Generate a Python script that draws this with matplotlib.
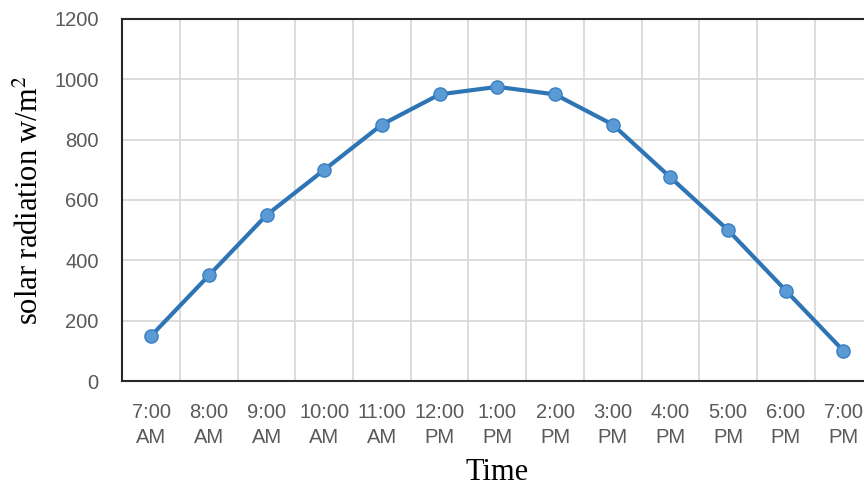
import matplotlib.pyplot as plt
from matplotlib.ticker import FixedLocator

# hourly readings, 7 AM to 7 PM
times = ['7:00\nAM', '8:00\nAM', '9:00\nAM', '10:00\nAM', '11:00\nAM', '12:00\nPM',
         '1:00\nPM', '2:00\nPM', '3:00\nPM', '4:00\nPM', '5:00\nPM', '6:00\nPM', '7:00\nPM']
radiation = [150, 350, 550, 700, 850, 950, 975, 950, 850, 675, 500, 300, 100]
y_ticks = [0, 200, 400, 600, 800, 1000, 1200]

plt.rcParams['mathtext.fontset'] = 'stix'

fig = plt.figure(figsize=(8.64, 4.86), dpi=100)
ax = fig.add_axes([0.1416, 0.216, 0.868, 0.745])

x = list(range(len(times)))
ax.plot(x, radiation, color='#2E75B6', linewidth=3.0, marker='o', markersize=9.5,
        markerfacecolor='#5B9BD5', markeredgecolor='#3A7FC2', markeredgewidth=1.0,
        zorder=3, clip_on=False)

ax.set_xlim(-0.5, len(times) - 0.5)
ax.set_ylim(0, 1200)
ax.set_xticks(x)
ax.set_xticklabels(times)
ax.set_yticks(y_ticks)

# gridlines sit between categories, like Excel
ax.xaxis.set_minor_locator(FixedLocator([i + 0.5 for i in x]))
ax.grid(axis='x', which='minor', color='#d9d9d9', linewidth=1.3)
ax.grid(axis='y', which='major', color='#d9d9d9', linewidth=1.3)
ax.set_axisbelow(True)

ax.tick_params(axis='both', which='both', length=0, labelsize=14.5, labelcolor='#595959')
ax.tick_params(axis='y', pad=17)
ax.tick_params(axis='x', pad=16)
for lbl in ax.get_xticklabels() + ax.get_yticklabels():
    lbl.set_fontfamily('Liberation Sans')
for lbl in ax.get_xticklabels():
    lbl.set_linespacing(1.4)

for side in ['left', 'top', 'bottom', 'right']:
    ax.spines[side].set_color('#262626')
    ax.spines[side].set_linewidth(1.5)

ax.set_xlabel('Time', fontsize=22, family='Liberation Serif', labelpad=8)
ax.set_ylabel('solar radiation w/m$^2$', fontsize=22, family='Liberation Serif', labelpad=7)

fig.savefig('out.png', dpi=100)
